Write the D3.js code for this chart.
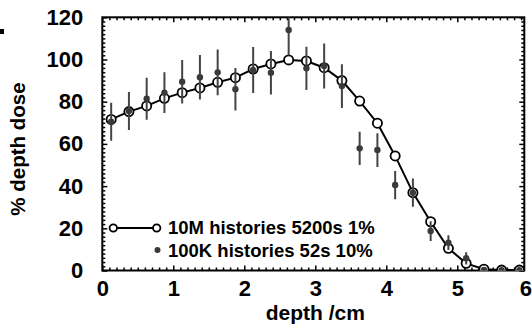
<!DOCTYPE html>
<html><head><meta charset="utf-8">
<script src="https://cdn.jsdelivr.net/npm/d3@7"></script>
<style>
html,body{margin:0;padding:0;background:#fff;}
svg{display:block;font-family:"Liberation Sans",Arial,sans-serif;font-weight:bold;}
</style></head>
<body><svg id="c" width="532" height="327"></svg>
<script>
// depth positions (cm)
const depth = [0.125,0.375,0.625,0.875,1.125,1.375,1.625,1.875,2.125,2.375,2.625,2.875,3.125,3.375,3.625,3.875,4.125,4.375,4.625,4.875,5.125,5.375,5.625,5.875];
// 10M histories 5200s 1%
const dose10M = [71.6,75.3,78,81.6,84.3,86.5,89.2,91.4,95.5,97.9,99.8,99.3,96.1,90,80.3,69.8,54.3,36.9,23.1,10.5,3.4,0.6,0.2,0.2];
// 100K histories 52s 10%
const dose100K = [70.5,75.6,81.4,84.3,89.5,91.6,93.9,85.9,95,93.7,114,95.8,96.9,87.4,57.9,57.1,40.5,36.9,18.7,13.2,5.8,0.3,0.2,0.2];
const err100K = [9,9,10,9.6,10.3,10.5,10.8,10.1,10.9,10.3,12,10.3,10.7,10.4,7.9,8,6.7,6.7,4.7,3.5,2.9,0.5,0.3,0.3];
const xTicks = [0,1,2,3,4,5,6];
const yTicks = [0,20,40,60,80,100,120];
const legendLabels = ["10M histories 5200s 1%","100K histories 52s 10%"];
const xTitle = "depth /cm";
const yTitle = "% depth dose";

const svg = d3.select("#c");
const L=102.3, R=524.3, T=17.3, B=270.5;
const x = d3.scaleLinear().domain([0,5.944]).range([L,R]);
const y = d3.scaleLinear().domain([0,120]).range([B,T]);

// stray mark at top-left
svg.append("rect").attr("x",0).attr("y",29).attr("width",4).attr("height",5).attr("fill","#000");

svg.append("defs").append("clipPath").attr("id","clip")
  .append("rect").attr("x",L).attr("y",T).attr("width",R-L).attr("height",B-T);

const xMinor = d3.range(0,60).map(i=>i/10).filter(v=>v<=5.94 && Math.abs(v-Math.round(v))>1e-6);
const yMinor = d3.range(0,61).map(i=>i*2).filter(v=>v%20!==0);

function styleAxis(g){
  g.select(".domain").remove();
  g.selectAll(".tick line").attr("stroke","#000").attr("stroke-width",1.5);
}
// bottom
const gb = svg.append("g").attr("transform",`translate(0,${B})`)
  .call(d3.axisBottom(x).tickValues(xTicks).tickSize(-5).tickPadding(10).tickFormat(d3.format("d")));
styleAxis(gb);
gb.selectAll(".tick").filter(d=>d>5.944).select("line").remove();
gb.selectAll(".tick").filter(d=>d>5.944).select("text").attr("dx",-3);
gb.selectAll(".tick text").attr("font-size",22).attr("fill","#000").attr("font-weight","bold").attr("font-family","Liberation Sans, Arial, sans-serif");
svg.append("g").attr("transform",`translate(0,${B})`)
  .call(d3.axisBottom(x).tickValues(xMinor).tickSize(-3).tickFormat("")).call(styleAxis);
// top
svg.append("g").attr("transform",`translate(0,${T})`)
  .call(d3.axisTop(x).tickValues(xTicks.filter(v=>v<=5.94)).tickSize(-5).tickFormat("")).call(styleAxis);
svg.append("g").attr("transform",`translate(0,${T})`)
  .call(d3.axisTop(x).tickValues(xMinor).tickSize(-3).tickFormat("")).call(styleAxis);
// left
const gl = svg.append("g").attr("transform",`translate(${L},0)`)
  .call(d3.axisLeft(y).tickValues(yTicks).tickSize(-5).tickPadding(19));
styleAxis(gl);
gl.selectAll(".tick text").attr("font-size",22).attr("fill","#000").attr("font-weight","bold").attr("font-family","Liberation Sans, Arial, sans-serif");
svg.append("g").attr("transform",`translate(${L},0)`)
  .call(d3.axisLeft(y).tickValues(yMinor).tickSize(-3).tickFormat("")).call(styleAxis);
// right
svg.append("g").attr("transform",`translate(${R},0)`)
  .call(d3.axisRight(y).tickValues(yTicks).tickSize(-5).tickFormat("")).call(styleAxis);
svg.append("g").attr("transform",`translate(${R},0)`)
  .call(d3.axisRight(y).tickValues(yMinor).tickSize(-3).tickFormat("")).call(styleAxis);

// frame
svg.append("rect").attr("x",L).attr("y",T).attr("width",R-L).attr("height",B-T)
  .attr("fill","none").attr("stroke","#000").attr("stroke-width",2);

const plot = svg.append("g").attr("clip-path","url(#clip)");
const d10 = depth.map((d,i)=>({x:d,y:dose10M[i]}));
const d100 = depth.map((d,i)=>({x:d,y:dose100K[i],e:err100K[i]}));

plot.append("path").datum(d10)
  .attr("d",d3.line().x(d=>x(d.x)).y(d=>y(d.y)))
  .attr("fill","none").attr("stroke","#000").attr("stroke-width",2);
plot.selectAll(".oc").data(d10).join("circle")
  .attr("cx",d=>x(d.x)).attr("cy",d=>y(d.y)).attr("r",4.6)
  .attr("fill","#fff").attr("stroke","#000").attr("stroke-width",1.8);
plot.selectAll(".eb").data(d100).join("line")
  .attr("x1",d=>x(d.x)).attr("x2",d=>x(d.x))
  .attr("y1",d=>y(d.y-d.e)).attr("y2",d=>y(d.y+d.e))
  .attr("stroke","#444").attr("stroke-width",2);
plot.selectAll(".fd").data(d100).join("circle")
  .attr("cx",d=>x(d.x)).attr("cy",d=>y(d.y)).attr("r",3.2)
  .attr("fill","#3a3a3a");

// legend
const lg = svg.append("g");
lg.append("line").attr("x1",113.3).attr("x2",156.7).attr("y1",228).attr("y2",228)
  .attr("stroke","#000").attr("stroke-width",1.8);
lg.selectAll(".lc").data([113.3,156.7]).join("circle")
  .attr("cx",d=>d).attr("cy",228).attr("r",3.7)
  .attr("fill","#fff").attr("stroke","#000").attr("stroke-width",1.8);
lg.append("circle").attr("cx",157.5).attr("cy",250).attr("r",3).attr("fill","#3a3a3a");
lg.selectAll(".lt").data(legendLabels).join("text")
  .attr("x",168).attr("y",(d,i)=>i===0?233.5:256.5)
  .attr("font-size",18.5).attr("fill","#000").text(d=>d);

// axis titles
svg.append("text").attr("x",(L+R)/2+2).attr("y",320).attr("text-anchor","middle")
  .attr("font-size",21).attr("fill","#000").text(xTitle);
svg.append("text").attr("transform","translate(25,149) rotate(-90)").attr("text-anchor","middle")
  .attr("font-size",20.5).attr("fill","#000").text(yTitle);
</script></body></html>
